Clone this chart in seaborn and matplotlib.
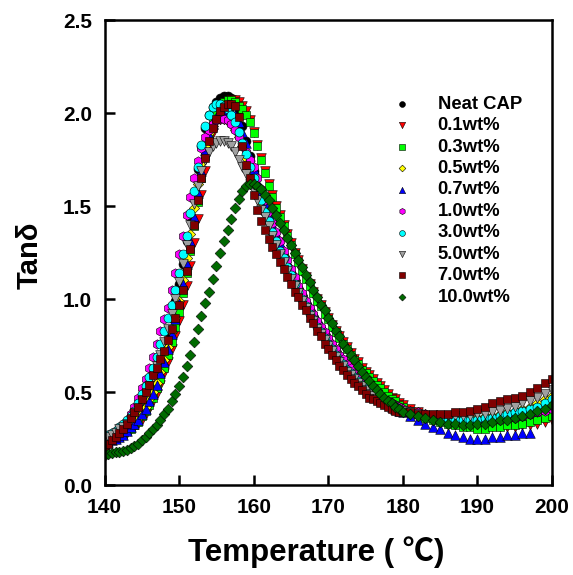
import numpy as np
import pandas as pd
import matplotlib
matplotlib.use("Agg")
import matplotlib.pyplot as plt
import seaborn as sns

# temperature grid (°C): 0.5° steps up to 180, 1° steps after
temp = [140, 140.5, 141, 141.5, 142, 142.5, 143, 143.5, 144, 144.5, 145, 145.5,
        146, 146.5, 147, 147.5, 148, 148.5, 149, 149.5, 150, 150.5, 151, 151.5,
        152, 152.5, 153, 153.5, 154, 154.5, 155, 155.5, 156, 156.5, 157, 157.5,
        158, 158.5, 159, 159.5, 160, 160.5, 161, 161.5, 162,
        162.5, 163, 163.5, 164, 164.5, 165, 165.5, 166, 166.5, 167, 167.5, 168,
        168.5, 169, 169.5, 170, 170.5, 171, 171.5, 172, 172.5, 173, 173.5, 174,
        174.5, 175, 175.5, 176, 176.5, 177, 177.5, 178, 178.5, 179, 179.5, 180,
        181, 182, 183, 184, 185, 186, 187, 188, 189, 190,
        191, 192, 193, 194, 195, 196, 197, 198, 199, 200]

neat_cap = [0.24, 0.25, 0.26, 0.27, 0.28, 0.29, 0.31, 0.33, 0.35, 0.38, 0.41, 0.45,
            0.49, 0.54, 0.60, 0.67, 0.74, 0.82, 0.90, 0.99, 1.08, 1.19, 1.31, 1.44, 1.57, 1.70, 1.82,
            1.92, 1.99, 2.03, 2.06, 2.08, 2.09, 2.09, 2.08, 2.05, 2.00, 1.93, 1.85, 1.77, 1.69, 1.61,
            1.54, 1.48, 1.42,
            1.37, 1.32, 1.27, 1.23, 1.18, 1.14, 1.10, 1.06, 1.02, 0.98, 0.94, 0.91, 0.87, 0.84, 0.81,
            0.78, 0.75, 0.72, 0.69, 0.67, 0.64, 0.62, 0.60, 0.58, 0.56, 0.54, 0.52, 0.50, 0.48, 0.47,
            0.46, 0.45, 0.44, 0.43, 0.42, 0.41,
            0.40, 0.38, 0.37, 0.36, 0.35, 0.35, 0.34, 0.34, 0.34, 0.34,
            0.34, 0.34, 0.35, 0.35, 0.36, 0.37, 0.38, 0.39, 0.40, 0.41]
wt01 = [0.22, 0.23, 0.24, 0.25, 0.26, 0.27, 0.28, 0.30, 0.31, 0.33, 0.35, 0.38,
        0.41, 0.45, 0.49, 0.54, 0.60, 0.66, 0.73, 0.80, 0.88, 0.97, 1.07, 1.18, 1.30, 1.43, 1.56,
        1.69, 1.80, 1.89, 1.96, 2.01, 2.04, 2.06, 2.07, 2.07, 2.06, 2.04, 2.01, 1.96, 1.90, 1.83,
        1.76, 1.69, 1.62,
        1.56, 1.50, 1.45, 1.40, 1.35, 1.30, 1.25, 1.21, 1.16, 1.12, 1.08, 1.04, 1.00, 0.97, 0.93,
        0.90, 0.86, 0.83, 0.80, 0.77, 0.74, 0.71, 0.68, 0.66, 0.63, 0.61, 0.59, 0.57, 0.55, 0.53,
        0.51, 0.49, 0.47, 0.46, 0.44, 0.43,
        0.41, 0.39, 0.37, 0.36, 0.35, 0.34, 0.33, 0.32, 0.32, 0.31,
        0.31, 0.31, 0.31, 0.31, 0.31, 0.32, 0.32, 0.33, 0.34, 0.35]
wt03 = [0.22, 0.23, 0.24, 0.25, 0.26, 0.27, 0.29, 0.30, 0.32, 0.34, 0.37, 0.40,
        0.43, 0.47, 0.52, 0.57, 0.63, 0.70, 0.77, 0.85, 0.93, 1.03, 1.14, 1.26, 1.39, 1.52, 1.65,
        1.77, 1.87, 1.95, 2.00, 2.04, 2.06, 2.07, 2.07, 2.06, 2.04, 2.02, 1.99, 1.95, 1.89, 1.82,
        1.75, 1.68, 1.61,
        1.55, 1.49, 1.44, 1.39, 1.34, 1.29, 1.24, 1.20, 1.15, 1.11, 1.07, 1.03, 0.99, 0.96, 0.92,
        0.89, 0.85, 0.82, 0.79, 0.76, 0.73, 0.70, 0.67, 0.65, 0.62, 0.60, 0.58, 0.56, 0.54, 0.52,
        0.50, 0.48, 0.46, 0.45, 0.43, 0.42,
        0.40, 0.38, 0.36, 0.35, 0.34, 0.33, 0.32, 0.31, 0.31, 0.30,
        0.30, 0.31, 0.31, 0.32, 0.32, 0.33, 0.34, 0.35, 0.36, 0.37]
wt05 = [0.23, 0.24, 0.25, 0.26, 0.27, 0.28, 0.30, 0.32, 0.34, 0.36, 0.39, 0.42,
        0.46, 0.50, 0.55, 0.61, 0.67, 0.74, 0.82, 0.90, 0.99, 1.10, 1.22, 1.35, 1.49, 1.62, 1.73,
        1.82, 1.89, 1.93, 1.96, 1.97, 1.97, 1.96, 1.94, 1.91, 1.87, 1.82, 1.76, 1.70, 1.64, 1.58,
        1.52, 1.47, 1.42,
        1.37, 1.32, 1.27, 1.23, 1.18, 1.14, 1.10, 1.06, 1.02, 0.98, 0.94, 0.91, 0.87, 0.84, 0.81,
        0.78, 0.75, 0.72, 0.69, 0.67, 0.64, 0.62, 0.60, 0.58, 0.56, 0.54, 0.52, 0.51, 0.49, 0.48,
        0.46, 0.45, 0.44, 0.43, 0.42, 0.41,
        0.40, 0.39, 0.38, 0.37, 0.36, 0.36, 0.36, 0.36, 0.36, 0.36,
        0.37, 0.37, 0.38, 0.39, 0.40, 0.41, 0.42, 0.44, 0.46, 0.48]
wt07 = [0.22, 0.23, 0.24, 0.25, 0.26, 0.27, 0.29, 0.31, 0.33, 0.35, 0.38, 0.41,
        0.45, 0.49, 0.54, 0.60, 0.66, 0.73, 0.81, 0.89, 0.98, 1.08, 1.19, 1.31, 1.44, 1.57, 1.69,
        1.80, 1.88, 1.94, 1.98, 2.00, 2.01, 2.02, 2.01, 1.99, 1.95, 1.90, 1.84, 1.77, 1.70, 1.63,
        1.57, 1.51, 1.45,
        1.40, 1.35, 1.30, 1.25, 1.20, 1.16, 1.12, 1.08, 1.04, 1.00, 0.96, 0.93, 0.89, 0.86, 0.82,
        0.79, 0.76, 0.73, 0.70, 0.68, 0.65, 0.63, 0.60, 0.58, 0.56, 0.54, 0.52, 0.50, 0.48, 0.47,
        0.45, 0.44, 0.42, 0.41, 0.40, 0.39,
        0.37, 0.35, 0.33, 0.31, 0.30, 0.28, 0.27, 0.26, 0.25, 0.25,
        0.25, 0.26, 0.26, 0.27, 0.27, 0.28, 0.28, np.nan, np.nan, np.nan]
wt10 = [0.25, 0.26, 0.27, 0.28, 0.30, 0.32, 0.34, 0.38, 0.42, 0.47, 0.52, 0.57,
        0.63, 0.69, 0.76, 0.83, 0.89, 0.95, 1.05, 1.14, 1.24, 1.34, 1.45, 1.55, 1.65, 1.74, 1.81,
        1.87, 1.91, 1.94, 1.96, 1.97, 1.97, 1.96, 1.94, 1.91, 1.87, 1.83, 1.79, 1.75, 1.71, 1.65,
        1.59, 1.53, 1.47,
        1.41, 1.36, 1.31, 1.26, 1.21, 1.16, 1.12, 1.07, 1.03, 0.99, 0.95, 0.92, 0.88, 0.85, 0.82,
        0.79, 0.76, 0.73, 0.70, 0.68, 0.65, 0.63, 0.60, 0.58, 0.56, 0.54, 0.52, 0.51, 0.49, 0.48,
        0.46, 0.45, 0.44, 0.43, 0.42, 0.41,
        0.40, 0.39, 0.38, 0.37, 0.36, 0.35, 0.35, 0.34, 0.34, 0.34,
        0.34, 0.35, 0.35, 0.36, 0.36, 0.37, 0.38, 0.39, 0.40, 0.41]
wt30 = [0.26, 0.27, 0.28, 0.29, 0.31, 0.33, 0.35, 0.37, 0.40, 0.44, 0.49, 0.53,
        0.58, 0.63, 0.69, 0.76, 0.83, 0.90, 0.97, 1.05, 1.14, 1.24, 1.34, 1.46, 1.58, 1.71, 1.83,
        1.93, 1.99, 2.03, 2.05, 2.05, 2.04, 2.02, 1.99, 1.95, 1.90, 1.84, 1.78, 1.71, 1.65, 1.59,
        1.53, 1.47, 1.42,
        1.36, 1.31, 1.26, 1.22, 1.17, 1.13, 1.08, 1.04, 1.00, 0.96, 0.92, 0.89, 0.85, 0.82, 0.79,
        0.76, 0.73, 0.70, 0.67, 0.65, 0.62, 0.60, 0.58, 0.56, 0.54, 0.52, 0.50, 0.49, 0.47, 0.46,
        0.45, 0.44, 0.43, 0.42, 0.41, 0.40,
        0.39, 0.38, 0.37, 0.36, 0.36, 0.35, 0.35, 0.35, 0.35, 0.35,
        0.36, 0.36, 0.37, 0.38, 0.39, 0.40, 0.41, 0.42, 0.44, 0.46]
wt50 = [0.25, 0.26, 0.27, 0.28, 0.30, 0.31, 0.33, 0.35, 0.38, 0.41, 0.45, 0.49,
        0.53, 0.58, 0.64, 0.70, 0.77, 0.84, 0.92, 1.00, 1.09, 1.19, 1.29, 1.40, 1.51, 1.61, 1.69,
        1.75, 1.79, 1.82, 1.84, 1.85, 1.85, 1.84, 1.82, 1.79, 1.75, 1.71, 1.67, 1.62, 1.58, 1.53,
        1.48, 1.44, 1.39,
        1.34, 1.29, 1.24, 1.20, 1.15, 1.11, 1.07, 1.03, 0.99, 0.95, 0.91, 0.88, 0.84, 0.81, 0.78,
        0.75, 0.72, 0.69, 0.66, 0.64, 0.61, 0.59, 0.57, 0.55, 0.53, 0.51, 0.49, 0.48, 0.46, 0.45,
        0.44, 0.43, 0.42, 0.41, 0.40, 0.40,
        0.39, 0.38, 0.37, 0.37, 0.37, 0.37, 0.37, 0.37, 0.37, 0.38,
        0.38, 0.39, 0.40, 0.41, 0.42, 0.44, 0.45, 0.47, 0.49, 0.51]
wt70 = [0.21, 0.22, 0.24, 0.26, 0.28, 0.30, 0.33, 0.36, 0.39, 0.42, 0.46, 0.50,
        0.54, 0.59, 0.63, 0.68, 0.72, 0.78, 0.84, 0.90, 0.97, 1.05, 1.15, 1.27, 1.40, 1.53, 1.65,
        1.76, 1.85, 1.92, 1.97, 2.01, 2.03, 2.05, 2.05, 2.04, 1.98, 1.82, 1.72, 1.65, 1.56, 1.48,
        1.42, 1.37, 1.32,
        1.28, 1.24, 1.20, 1.16, 1.12, 1.08, 1.04, 1.01, 0.97, 0.94, 0.90, 0.87, 0.83, 0.80, 0.76,
        0.73, 0.70, 0.67, 0.64, 0.62, 0.59, 0.57, 0.55, 0.53, 0.51, 0.49, 0.47, 0.46, 0.45, 0.44,
        0.43, 0.42, 0.41, 0.40, 0.39, 0.39,
        0.39, 0.38, 0.38, 0.38, 0.38, 0.38, 0.39, 0.39, 0.40, 0.41,
        0.42, 0.44, 0.45, 0.46, 0.47, 0.48, 0.50, 0.52, 0.55, 0.57]
wt100 = [0.16, 0.165, 0.17, 0.175, 0.18, 0.185, 0.19, 0.20, 0.21, 0.22, 0.24, 0.26,
         0.28, 0.30, 0.32, 0.35, 0.38, 0.41, 0.45, 0.49, 0.53, 0.58, 0.64, 0.70, 0.77, 0.84, 0.91,
         0.98, 1.04, 1.11, 1.18, 1.25, 1.31, 1.37, 1.43, 1.49, 1.54, 1.58, 1.61, 1.62, 1.62, 1.61,
         1.59, 1.56, 1.53,
         1.49, 1.45, 1.41, 1.37, 1.33, 1.29, 1.25, 1.21, 1.17, 1.13, 1.09, 1.05, 1.01, 0.97, 0.94,
         0.90, 0.87, 0.83, 0.80, 0.76, 0.73, 0.70, 0.67, 0.64, 0.61, 0.58, 0.56, 0.53, 0.51, 0.49,
         0.47, 0.45, 0.44, 0.42, 0.41, 0.39,
         0.38, 0.37, 0.36, 0.35, 0.34, 0.33, 0.33, 0.32, 0.32, 0.33,
         0.33, 0.34, 0.35, 0.35, 0.36, 0.37, 0.38, 0.40, 0.41, 0.43]

labels = ["Neat CAP", "0.1wt%", "0.3wt%", "0.5wt%", "0.7wt%",
          "1.0wt%", "3.0wt%", "5.0wt%", "7.0wt%", "10.0wt%"]
series = [neat_cap, wt01, wt03, wt05, wt07, wt10, wt30, wt50, wt70, wt100]
colors = ["#000000", "#FF0000", "#00FF00", "#FFFF00", "#0000FF",
          "#FF00FF", "#00FFFF", "#A0A0A0", "#800000", "#006A00"]
markers = ["o", "v", "s", "D", "^", "h", "o", "v", "s", "D"]
sizes = [42, 48, 40, 28, 48, 46, 42, 48, 40, 30]

sns.set_style("ticks")
plt.rcParams["font.family"] = ["Liberation Sans", "Noto Sans CJK SC", "DejaVu Sans"]
plt.rcParams["font.weight"] = "bold"
for key in ["text.color", "axes.labelcolor", "xtick.color", "ytick.color", "axes.edgecolor"]:
    plt.rcParams[key] = "black"

fig = plt.figure(figsize=(5.73, 5.75), dpi=100)
ax = fig.add_axes([0.1824, 0.1565, 0.781, 0.8087])

for lab, ys, c, m, s in zip(labels, series, colors, markers, sizes):
    df = pd.DataFrame({"T": temp, "tan": ys}).dropna()
    sns.scatterplot(data=df, x="T", y="tan", ax=ax, color=c, marker=m, s=s,
                    edgecolor="black", linewidth=0.4, label=lab)

ax.set_xlim(140, 200)
ax.set_ylim(0, 2.5)
ax.set_xticks([140, 150, 160, 170, 180, 190, 200])
ax.set_yticks([0.0, 0.5, 1.0, 1.5, 2.0, 2.5])
ax.set_yticklabels(["0.0", "0.5", "1.0", "1.5", "2.0", "2.5"])
ax.tick_params(direction="in", length=7.5, width=1.8, labelsize=15, pad=9,
               top=False, right=False)
for sp in ax.spines.values():
    sp.set_linewidth(1.8)

ax.set_xlabel("Temperature ( ℃)", fontsize=22.5, fontweight="bold")
ax.set_ylabel("Tanδ", fontsize=21, fontweight="bold")
ax.xaxis.set_label_coords(0.473, -0.11)
ax.yaxis.set_label_coords(-0.135, 0.495)

leg = ax.legend(loc="upper left", bbox_to_anchor=(0.608, 0.853), frameon=False,
                prop={"weight": "bold", "size": 13.3}, handletextpad=0.9,
                labelspacing=0.24, borderaxespad=0, markerscale=0.65)

fig.savefig("out.png", dpi=100)
